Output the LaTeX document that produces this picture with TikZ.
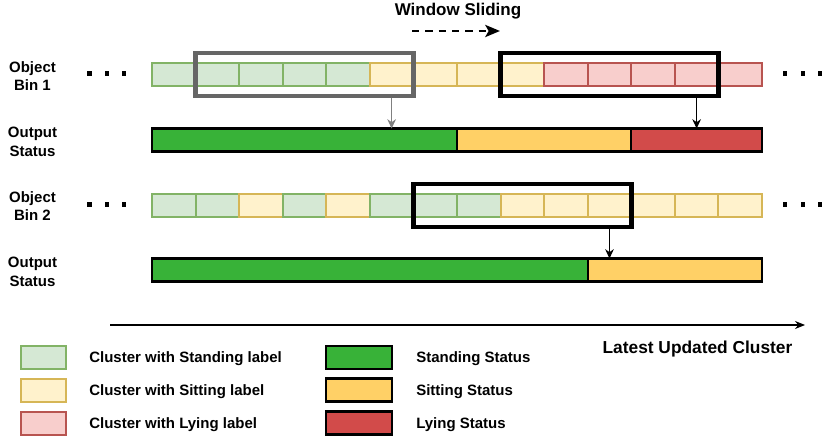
\documentclass[tikz,border=0pt]{standalone}
\usepackage{fontspec}
\setmainfont{Liberation Sans}
\usetikzlibrary{arrows.meta,fit}

\definecolor{standfill}{HTML}{D5E8D4}
\definecolor{standline}{HTML}{82B366}
\definecolor{sitfill}{HTML}{FFF2CC}
\definecolor{sitline}{HTML}{D6B656}
\definecolor{liefill}{HTML}{F8CECC}
\definecolor{lieline}{HTML}{B85450}
\definecolor{stgreen}{HTML}{38B238}
\definecolor{styellow}{HTML}{FFD066}
\definecolor{stred}{HTML}{D24B4A}
\definecolor{wingray}{HTML}{666666}
\definecolor{arrgray}{HTML}{808080}

\tikzset{
  cell/.style={draw, line width=1.5pt, minimum width=32.68pt, minimum height=17.25pt, inner sep=0pt, outer sep=0pt},
  standcell/.style={cell, draw=standline, fill=standfill},
  sitcell/.style={cell, draw=sitline, fill=sitfill},
  liecell/.style={cell, draw=lieline, fill=liefill},
  statusbar/.style={draw=black, line width=1.6pt, minimum height=17.25pt, inner sep=0pt, outer sep=0pt},
  slidewin/.style={draw, line width=3.5pt, inner xsep=0pt, inner ysep=7.5pt},
  bindot/.style={fill, minimum size=3.5pt, inner sep=0pt},
  rowlabel/.style={font=\bfseries\fontsize{11.25}{14}\selectfont, align=center},
  legtext/.style={font=\bfseries\fontsize{11.25}{14}\selectfont, anchor=mid west, inner sep=0pt},
  pointer/.style={-{Stealth[length=7pt,width=6.5pt]}, line width=0.9pt},
}

\begin{document}
\begin{tikzpicture}[x=0.75pt,y=-0.75pt]
\useasboundingbox (0,0) rectangle (831,438);

% row labels
\node[rowlabel] (lab1) at (32.5,76) {Object\\Bin 1};
\node[rowlabel] (out1l) at (32.5,142) {Output\\Status};
\node[rowlabel] (lab2) at (32.5,206) {Object\\Bin 2};
\node[rowlabel] (out2l) at (32.5,272) {Output\\Status};

% dots
\foreach \x [count=\i] in {89.5,107,124}{
    \node[bindot] (l1d\i) at (\x,73.5) {};
    \node[bindot] (l2d\i) at (\x,204.5) {};
}
\foreach \x [count=\i] in {785,803,820}{
    \node[bindot] (r1d\i) at (\x,73.5) {};
    \node[bindot] (r2d\i) at (\x,204.5) {};
}

% object bin 1
\foreach \t [count=\i] in {standcell,standcell,standcell,standcell,standcell,
    sitcell,sitcell,sitcell,sitcell,liecell,liecell,liecell,liecell,liecell}{
    \node[\t] (a\i) at ({152+43.57*(\i-0.5)},74.5) {};
}

% object bin 2
\foreach \t [count=\i] in {standcell,standcell,sitcell,standcell,sitcell,standcell,standcell,
    standcell,sitcell,sitcell,sitcell,sitcell,sitcell,sitcell}{
    \node[\t] (b\i) at ({152+43.57*(\i-0.5)},205.5) {};
}

% output status
\node[statusbar, fill=stgreen, minimum width=228.75pt, anchor=west] (o1a) at (152,140) {};
\node[statusbar, fill=styellow, minimum width=130.71pt, anchor=west] (o1b) at (o1a.east) {};
\node[statusbar, fill=stred, minimum width=98.04pt, anchor=west] (o1c) at (o1b.east) {};

\node[statusbar, fill=stgreen, minimum width=326.79pt, anchor=west] (o2a) at (152,270) {};
\node[statusbar, fill=styellow, minimum width=130.71pt, anchor=west] (o2b) at (o2a.east) {};

% windows
\node[slidewin, draw=wingray, fit=(a2)(a6)] (win1) {};
\node[slidewin, fit=(a9)(a13)] (win2) {};
\node[slidewin, fit=(b7)(b11)] (win3) {};

\draw[pointer, arrgray] (win1.south -| a6) -- (o1a.north -| a6);
\draw[pointer] (win2.south -| a13) -- (o1c.north -| a13);
\draw[pointer] (win3.south -| b11) -- (o2b.north -| b11);

% window sliding
\node[font=\bfseries\fontsize{12.75}{15}\selectfont, anchor=mid] (slide) at (458,12.3) {Window Sliding};
\coordinate (ss) at (412,31);
\coordinate (se) at (500,31);
\draw[line width=2.2pt, dash pattern=on 5.5pt off 4.5pt, -{Stealth[length=11pt,width=9pt,inset=2.5pt]}] (ss) -- (se);

% time axis
\coordinate (t0) at (110,325);
\coordinate (t1) at (805,325);
\draw[-{Stealth[length=7.5pt,width=6pt]}, line width=1.1pt] (t0) -- (t1);
\node[font=\bfseries\fontsize{13}{15}\selectfont, anchor=mid] (latest) at (697.5,350) {Latest Updated Cluster};

% legend
\node[standcell, minimum width=33.75pt] (k1) at (43.5,357.5) {};
\node[sitcell, minimum width=33.75pt] (k2) at (43.5,390) {};
\node[liecell, minimum width=33.75pt] (k3) at (43.5,423) {};
\node[legtext] (k1t) at (89,359) {Cluster with Standing label};
\node[legtext] (k2t) at (89,391.5) {Cluster with Sitting label};
\node[legtext] (k3t) at (89,424.5) {Cluster with Lying label};

\node[statusbar, fill=stgreen, minimum width=49.5pt] (s1) at (359,357.5) {};
\node[statusbar, fill=styellow, minimum width=49.5pt] (s2) at (359,390) {};
\node[statusbar, fill=stred, minimum width=49.5pt] (s3) at (359,423) {};
\node[legtext] (s1t) at (416,359) {Standing Status};
\node[legtext] (s2t) at (416,391.5) {Sitting Status};
\node[legtext] (s3t) at (416,424.5) {Lying Status};
\end{tikzpicture}
\end{document}
